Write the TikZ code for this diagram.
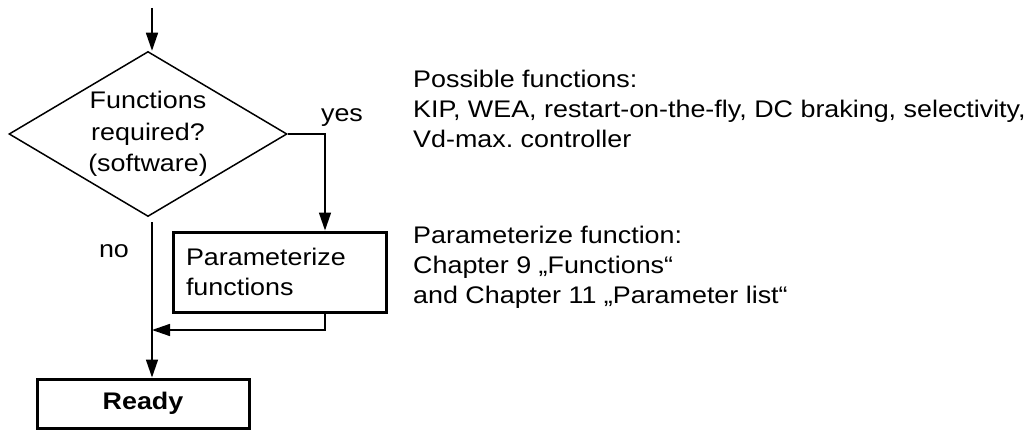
\documentclass[tikz,border=0pt]{standalone}
\usepackage{fontspec}
\setmainfont{Liberation Sans}[FakeStretch=1.12]
\usetikzlibrary{shapes.geometric,arrows.meta}
\begin{document}
\begin{tikzpicture}[x=1pt,y=1pt,
    font=\fontsize{24}{30}\selectfont,
    flow/.style={-{Triangle[length=18pt,width=12pt]}, line width=1.5pt},
    box/.style={draw, line width=3pt, inner sep=0pt}]
    \useasboundingbox (0,0) rectangle (1034,432);
    \node[diamond, draw, line width=1.5pt, minimum width=278pt, minimum height=165pt, inner sep=-20pt, align=center, font=\fontsize{24}{31.5}\selectfont] (query) at (148,298) {Functions\\required?\\(software)};
    \node[box, minimum width=213pt, minimum height=80pt, text width=187pt, align=left] (param) at (279.5,160) {Parameterize\\functions};
    \node[box, minimum width=212pt, minimum height=49pt, font=\fontsize{24}{30}\selectfont\bfseries] (ready) at (143,28.5) {Ready};
    \coordinate (entry) at (152,424);
    \coordinate (nostart) at (152,210);
    \coordinate (merge) at (152,102);
    \draw[flow] (entry) -- (entry |- query.north);
    \draw[flow] (query.east) -| ([xshift=45.5pt]param.north);
    \draw[flow] ([xshift=45.5pt]param.south) |- (merge);
    \draw[flow] (nostart) -- (nostart |- ready.north);
    \node (yes) at (342,314) {yes};
    \node (no) at (114,181) {no};
    \node[anchor=north west, inner sep=0pt, align=left] (funclist) at (413,362) {Possible functions:\\KIP, WEA, restart-on-the-fly, DC braking, selectivity,\\Vd-max.\ controller};
    \node[anchor=north west, inner sep=0pt, align=left] (paramref) at (413,206) {Parameterize function:\\Chapter 9 „Functions“\\and Chapter 11 „Parameter list“};
  \end{tikzpicture}
\end{document}
